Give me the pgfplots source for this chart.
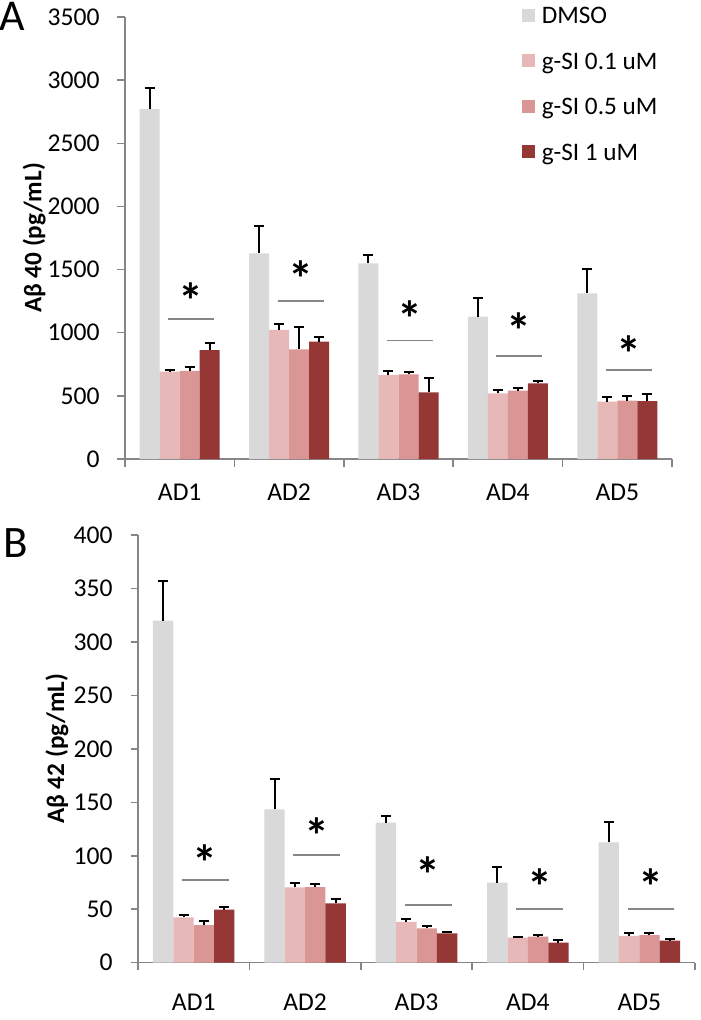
\documentclass[border=0pt]{standalone}
\usepackage{fontspec}
\setmainfont{Carlito}
\usepackage{pgfplots}
\usepackage{pgfplotstable}
\pgfplotsset{compat=1.18}
\definecolor{cD}{HTML}{D9D9D9}
\definecolor{cA}{HTML}{E6B9B8}
\definecolor{cB}{HTML}{D99694}
\definecolor{cC}{HTML}{953735}
\definecolor{axgray}{HTML}{868686}

\pgfplotstableread{
x d de a ae b be c ce
0 2770 170 691 16 697 29 863 53
1 1629 219 1022 47 868 180 929 39
2 1550 66 665 34 671 20 528 111
3 1127 146 520 26 541 19 599 21
4 1312 190 454 39 462 39 459 53
}\tabA
\pgfplotstableread{
x d de a ae b be c ce
0 320 37 42.4 1.9 35.2 4.1 49.6 2.8
1 143.4 28.6 70.5 3.7 70.8 2.8 55.5 3.8
2 130.9 6.3 38.3 2.3 32.2 2.1 27.5 1.2
3 74.8 14.4 23.4 0.9 24.3 1.6 18.7 2.2
4 112.6 19.2 25.0 2.5 25.9 1.6 20.6 1.8
}\tabB

\pgfplotsset{
  sq legend/.style={legend image code/.code={\fill[##1,draw=none] (0pt,-3.25pt) rectangle (6.5pt,3.25pt);}},
  eb/.style={error bars/.cd, y dir=plus, y explicit,
     error bar style={black, line width=1pt},
     error mark options={black, line width=1pt, mark size=2.5pt, rotate=90}},
  panel/.style={
    scale only axis, clip=false, ybar,
    bar width=0.183, xmin=-0.5, xmax=4.5, ymin=0,
    axis x line*=bottom, axis y line*=left,
    axis line style={axgray, line width=0.75pt},
    xtick={0,...,4}, xticklabels={AD1,AD2,AD3,AD4,AD5},
    minor xtick={-0.5,0.5,...,4.5},
    tick align=outside, major tick length=3.75pt, minor tick length=3.75pt,
    major x tick style={draw=none},
    minor x tick style={axgray, line width=0.75pt},
    y tick style={axgray, line width=0.75pt},
    /pgf/number format/.cd, 1000 sep={}, assume math mode=true, /pgfplots/.cd,
    scaled y ticks=false,
    tick label style={font=\fontsize{12.8}{15}\selectfont, black},
    yticklabel style={anchor=east, inner sep=0pt, text height=8.25pt, text depth=0pt, xshift=-8.75pt},
    xticklabel style={anchor=north, inner sep=0pt, text height=8.25pt, text depth=0pt},
    unbounded coords=jump,
  },
  sig/.style={forget plot, sharp plot, bar shift=0, axgray, line width=0.6pt},
  star/.style={forget plot, only marks, mark=none, bar shift=0,
     nodes near coords={\fontsize{25}{25}\selectfont\bfseries *},
     nodes near coords align={center},
     every node near coord/.append style={inner sep=0pt, black}},
}

\begin{document}
\begin{tikzpicture}
\path[use as bounding box] (0pt,0pt) rectangle (350pt,-510pt);
\node[anchor=base west, inner sep=0pt, font=\fontsize{22}{22}\selectfont] at (-0.5pt,-15.4pt) {A};
\node[anchor=base west, inner sep=0pt, font=\fontsize{22.5}{22.5}\selectfont] at (1.5pt,-278.85pt) {B};

\begin{axis}[panel, at={(62.5pt,-229.5pt)}, anchor=south west,
  width=273.5pt, height=221pt, ymax=3500, ytick={0,500,...,3500},
  xticklabel style={yshift=-8.75pt},
  ylabel={Aβ 40 (pg/mL)},
  ylabel style={at={(axis description cs:-0.166,0.5)}, anchor=center, font=\fontsize{12.6}{15}\selectfont\bfseries},
  legend style={at={(rel axis cs:0.7252,1.0235)}, anchor=north west, draw=none, fill=none,
    inner sep=0pt, row sep=14.5pt, column sep=3.35pt, font=\fontsize{12.6}{15}\selectfont,
    nodes={inner sep=0pt, text height=8.25pt, text depth=0pt}},
  legend cell align=left]
\addplot[sq legend, fill=cD, draw=none, bar shift=-0.2745, eb] table[x=x, y=d, y error=de]{\tabA};
\addlegendentry{DMSO}
\addplot[sq legend, fill=cA, draw=none, bar shift=-0.0915, eb] table[x=x, y=a, y error=ae]{\tabA};
\addlegendentry{g-SI 0.1 uM}
\addplot[sq legend, fill=cB, draw=none, bar shift=0.0915, eb] table[x=x, y=b, y error=be]{\tabA};
\addlegendentry{g-SI 0.5 uM}
\addplot[sq legend, fill=cC, draw=none, bar shift=0.2745, eb] table[x=x, y=c, y error=ce]{\tabA};
\addlegendentry{g-SI 1 uM}
\addplot[sig] coordinates {(-0.105,1109) (0.315,1109) (0.5,nan) (0.895,1251) (1.315,1251) (1.5,nan)
  (1.895,937) (2.315,937) (2.5,nan) (2.895,816) (3.315,816) (3.5,nan) (3.895,705) (4.315,705)};
\addplot[star] coordinates {(0.105,1251) (1.105,1426) (2.105,1109) (3.105,1016) (4.105,832)};
\end{axis}

\begin{axis}[panel, at={(69pt,-481.35pt)}, anchor=south west,
  width=278.5pt, height=213.85pt, ymax=400, ytick={0,50,...,400},
  xticklabel style={yshift=-11.65pt},
  ylabel={Aβ 42 (pg/mL)},
  ylabel style={at={(axis description cs:-0.1454,0.5)}, anchor=center, font=\fontsize{12.6}{15}\selectfont\bfseries}]
\addplot[fill=cD, draw=none, bar shift=-0.2745, eb] table[x=x, y=d, y error=de]{\tabB};
\addplot[fill=cA, draw=none, bar shift=-0.0915, eb] table[x=x, y=a, y error=ae]{\tabB};
\addplot[fill=cB, draw=none, bar shift=0.0915, eb] table[x=x, y=b, y error=be]{\tabB};
\addplot[fill=cC, draw=none, bar shift=0.2745, eb] table[x=x, y=c, y error=ce]{\tabB};
\addplot[sig] coordinates {(-0.105,77.3) (0.315,77.3) (0.5,nan) (0.895,100.7) (1.315,100.7) (1.5,nan)
  (1.895,54) (2.315,54) (2.5,nan) (2.895,50.2) (3.315,50.2) (3.5,nan) (3.895,50.2) (4.315,50.2)};
\addplot[star] coordinates {(0.105,94) (1.105,118.4) (2.105,82.5) (3.105,71.6) (4.105,70.7)};
\end{axis}
\end{tikzpicture}
\end{document}
